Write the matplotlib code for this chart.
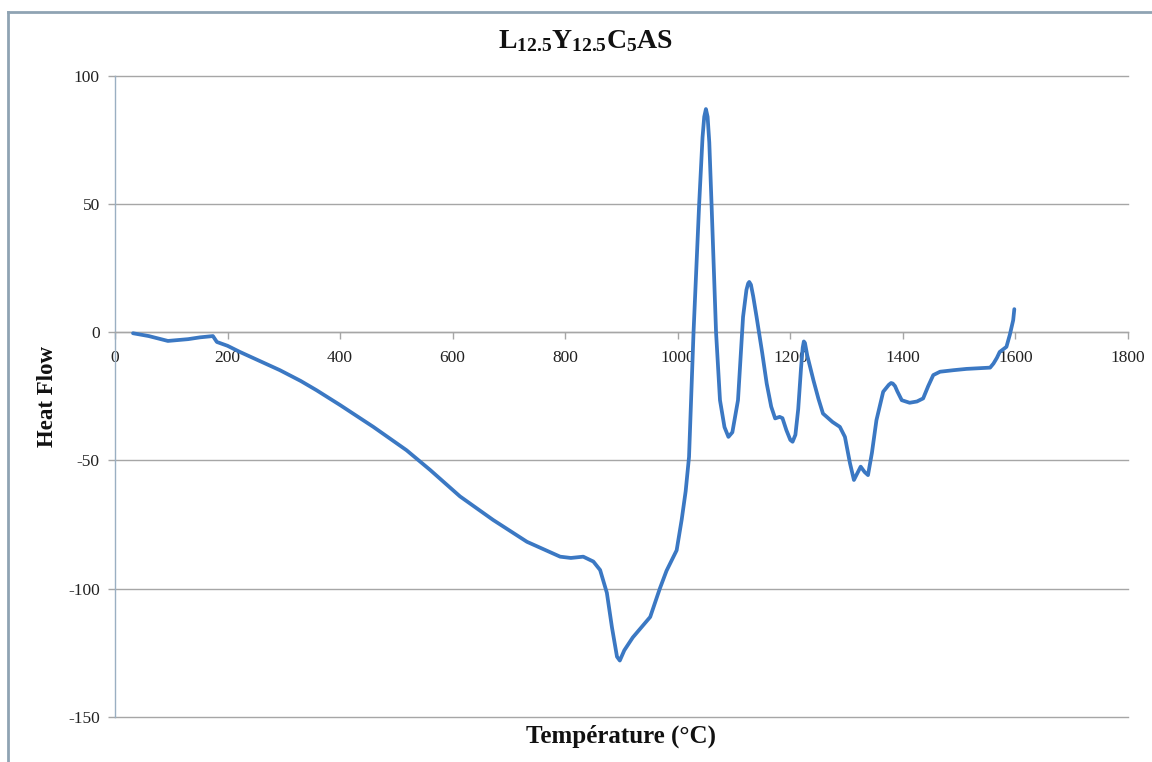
import matplotlib
matplotlib.use("Agg")
import matplotlib.pyplot as plt
from matplotlib.lines import Line2D

# ---- data ----
temperature = [32, 60, 94, 130, 151, 174, 181, 200, 222, 260, 293, 330, 358, 400,
               459, 518, 560, 613, 672, 732, 791, 810, 832, 850, 862, 874, 883, 892,
               897, 905, 920, 951, 968, 980, 998, 1007, 1014, 1020, 1028, 1038, 1044,
               1047, 1050, 1053, 1056, 1060, 1068, 1075, 1083, 1090, 1097, 1107, 1116,
               1122, 1125, 1127, 1130, 1134, 1140, 1150, 1158, 1166, 1173, 1181, 1186,
               1193, 1200, 1204, 1209, 1214, 1219, 1222, 1224, 1226, 1230, 1241, 1250,
               1258, 1275, 1288, 1297, 1306, 1313, 1319, 1325, 1332, 1338, 1345, 1353,
               1365, 1375, 1379, 1382, 1386, 1390, 1398, 1412, 1425, 1436, 1445, 1454,
               1466, 1490, 1513, 1555, 1561, 1567, 1572, 1584, 1590, 1596, 1598]
heat_flow = [-0.4, -1.5, -3.4, -2.7, -2.0, -1.5, -3.8, -5.3, -7.7, -11.5, -14.8, -19,
             -22.6, -28.4, -36.9, -46, -53.7, -64, -73.2, -81.7, -87.5, -88, -87.5,
             -89.4, -92.7, -101.6, -115, -126.5, -128, -124, -119, -111, -100, -93,
             -85, -73, -62, -48.6, 0, 50, 76, 84, 87, 84, 74, 50, 0, -26.5, -37,
             -40.8, -39, -26.5, 6, 16.5, 19, 19.6, 18.5, 14, 6, -8, -20, -29, -33.6,
             -33, -33.5, -38.2, -42, -42.7, -40, -30, -14, -6, -3.6, -4.2, -9, -18.7,
             -26, -31.7, -35, -36.9, -40.8, -51.1, -57.6, -55, -52.4, -54.5, -55.7,
             -47, -34.3, -23.2, -20.5, -19.8, -20, -21, -23, -26.5, -27.5, -27, -25.8,
             -21, -16.7, -15.4, -14.8, -14.3, -13.8, -12.2, -10, -7.7, -5.7, -1, 4.7,
             9]

x_ticks = [0, 200, 400, 600, 800, 1000, 1200, 1400, 1600, 1800]
y_ticks = [-150, -100, -50, 0, 50, 100]
title = r'$\mathbf{L_{12.5}Y_{12.5}C_{5}AS}$'
x_label = 'Température (°C)'
y_label = 'Heat Flow'

plt.rcParams['font.family'] = ['Liberation Serif', 'DejaVu Serif']
plt.rcParams['axes.unicode_minus'] = False
plt.rcParams['mathtext.fontset'] = 'custom'
plt.rcParams['mathtext.rm'] = 'Liberation Serif'
plt.rcParams['mathtext.bf'] = 'Liberation Serif:bold'
plt.rcParams['mathtext.it'] = 'Liberation Serif:italic'

W, H = 1152, 762
fig = plt.figure(figsize=(W / 100, H / 100), dpi=100)
fig.patch.set_facecolor('white')

left, right, top, bottom = 115 / W, 1128 / W, 1 - 75.7 / H, 1 - 717 / H
ax = fig.add_axes([left, bottom, right - left, top - bottom])

grid_c = '#A6A6A6'
ax.set_xlim(0, 1800)
ax.set_ylim(-150, 100)
ax.set_xticks(x_ticks)
ax.set_yticks(y_ticks)
ax.yaxis.grid(True, color=grid_c, linewidth=1.0)
for gl in ax.get_ygridlines():
    gl.set_clip_on(False)
ax.set_axisbelow(True)

ax.plot(temperature, heat_flow, color='#3B78C3', linewidth=2.7,
        solid_joinstyle='round', solid_capstyle='round', zorder=3)

for s in ['top', 'right']:
    ax.spines[s].set_visible(False)
ax.spines['bottom'].set_position(('data', 0))
ax.spines['bottom'].set_color(grid_c)
ax.spines['left'].set_color('#9AAFC2')
ax.spines['bottom'].set_linewidth(1.0)
ax.spines['left'].set_linewidth(1.0)

ax.tick_params(axis='both', direction='out', length=5, width=1.0,
               colors=grid_c, labelcolor='#222222', labelsize=12.5)
ax.tick_params(axis='x', pad=8)
ax.tick_params(axis='y', pad=6)

ax.set_xlabel(x_label, fontsize=18, fontweight='bold', color='#111111')
ax.xaxis.set_label_coords(0.5, -0.012)
ax.set_ylabel(y_label, fontsize=16.5, fontweight='bold', color='#111111')
ax.yaxis.set_label_coords(-0.056, 0.5)

fig.text(586 / W, 1 - 48.3 / H, title, fontsize=20, ha='center', va='baseline',
         color='#111111')

# outer chart frame (left and top edges visible)
frame_c = '#8FA3B3'
fig.add_artist(Line2D([8 / W, 8 / W], [0, 1 - 12 / H], transform=fig.transFigure,
                      color=frame_c, linewidth=2))
fig.add_artist(Line2D([8 / W, 1], [1 - 12 / H, 1 - 12 / H], transform=fig.transFigure,
                      color=frame_c, linewidth=2))

fig.savefig('out.png', dpi=100)
